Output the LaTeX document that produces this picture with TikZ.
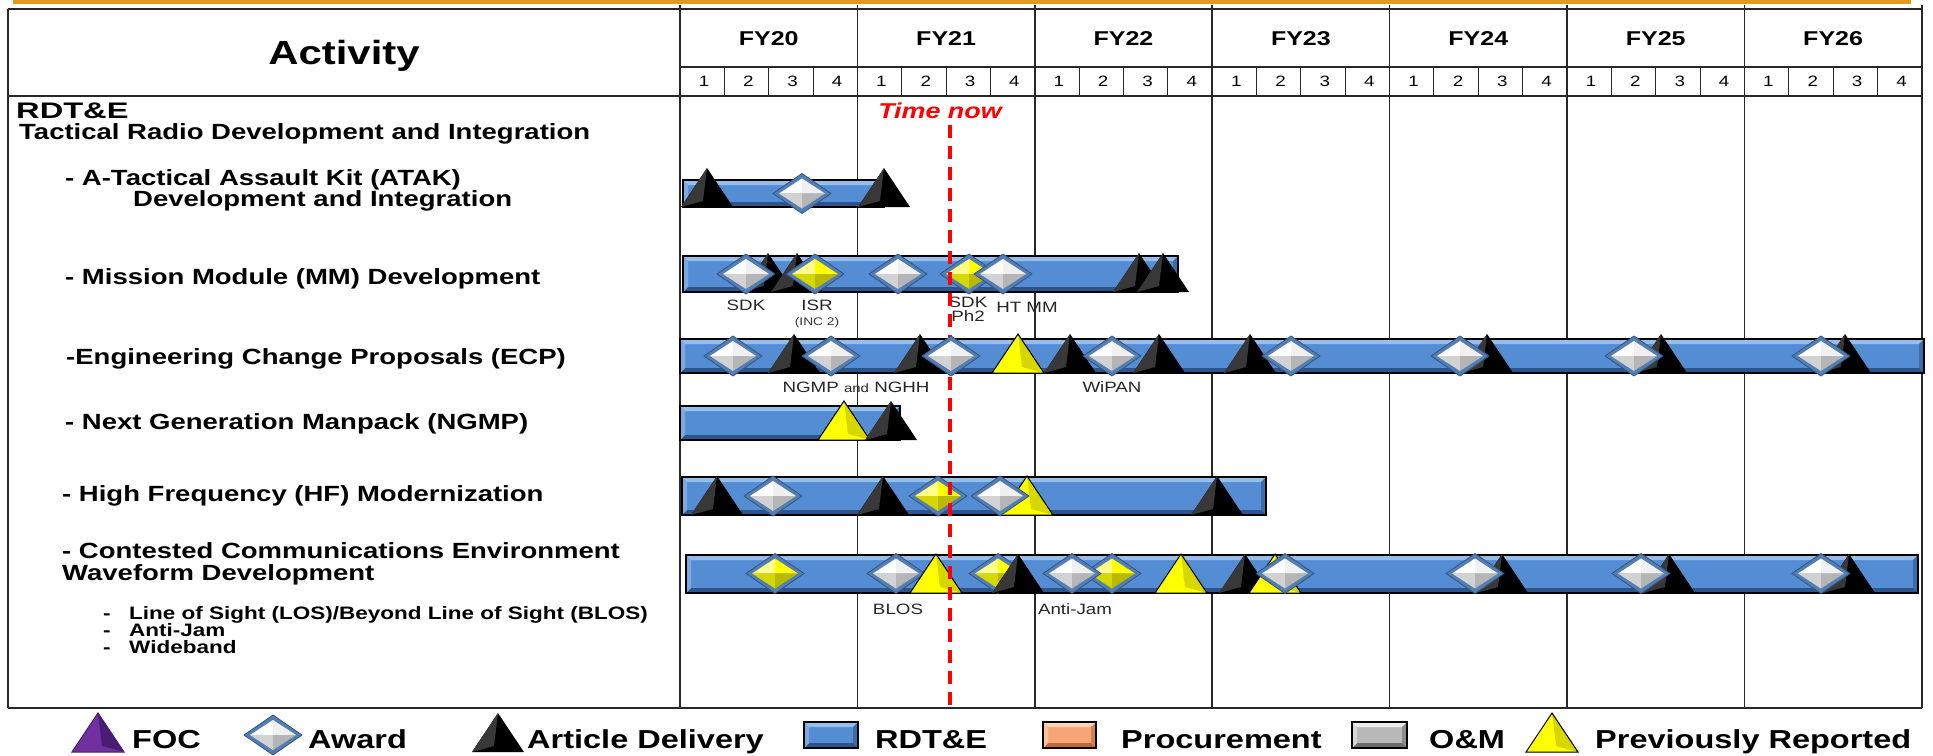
\documentclass[tikz,border=0pt]{standalone}
\usepackage{fontspec}
\setmainfont{Liberation Sans}
\definecolor{barblue}{RGB}{84,141,212}
\definecolor{barlight}{RGB}{150,190,235}
\definecolor{bardark}{RGB}{45,85,140}
\definecolor{dborder}{RGB}{84,126,178}
\definecolor{dborderdk}{RGB}{50,85,130}
\definecolor{gridc}{RGB}{40,40,40}
\definecolor{orangeline}{RGB}{222,155,30}
\definecolor{yl}{RGB}{255,255,0}
\definecolor{ylight}{RGB}{255,255,140}
\definecolor{ydark}{RGB}{215,215,0}
\definecolor{ydarker}{RGB}{185,185,0}
\definecolor{focpurple}{RGB}{112,48,160}
\definecolor{focdark}{RGB}{75,28,115}
\definecolor{procmid}{RGB}{246,166,118}
\definecolor{proclight}{RGB}{252,212,185}
\definecolor{procdark}{RGB}{190,105,55}
\definecolor{ommid}{RGB}{185,185,185}
\definecolor{omlight}{RGB}{235,235,235}
\definecolor{omdark}{RGB}{110,110,110}
\definecolor{timered}{RGB}{255,0,0}

\newcommand\st[1]{\scalebox{1.25}[1]{#1}}
\newcommand\bevelbox[7]{%
  \fill[#5] (#1,#3) rectangle (#2,#4);
  \fill[#6] (#1,#3) -- (#2,#3) -- ({#2-5},{#3+5}) -- ({#1+5},{#3+5}) -- cycle;
  \fill[#7] (#1,#4) -- (#2,#4) -- ({#2-5},{#4-5}) -- ({#1+5},{#4-5}) -- cycle;
  \fill[#6,opacity=0.6] (#1,#3) -- ({#1+5},{#3+5}) -- ({#1+5},{#4-5}) -- (#1,#4) -- cycle;
  \fill[#7,opacity=0.6] (#2,#3) -- ({#2-5},{#3+5}) -- ({#2-5},{#4-5}) -- (#2,#4) -- cycle;
  \draw[black, line width=1.5] (#1,#3) rectangle (#2,#4);
}
\newcommand\ganttbar[4]{\bevelbox{#1}{#2}{#3}{#4}{barblue}{barlight}{bardark}}

\tikzset{
  gridline/.style={gridc, line width=1.5},
  hdr/.style={anchor=base, inner sep=0, font=\bfseries\fontsize{33.5}{38}\selectfont},
  bigl/.style={anchor=base west, inner sep=0, font=\bfseries\fontsize{22.5}{27}\selectfont},
  rowlbl/.style={anchor=base west, inner sep=0, font=\bfseries\fontsize{22}{26}\selectfont},
  sublbl/.style={anchor=base west, inner sep=0, font=\bfseries\fontsize{18}{21}\selectfont},
  small/.style={anchor=base, inner sep=0, font=\fontsize{15}{17}\selectfont, text=black!85},
  tiny/.style={anchor=base, inner sep=0, font=\fontsize{11}{13}\selectfont, text=black!80},
  fy/.style={anchor=base, inner sep=0, font=\bfseries\fontsize{20}{24}\selectfont},
  qn/.style={anchor=base, inner sep=0, font=\fontsize{15}{18}\selectfont},
  legtxt/.style={anchor=base west, inner sep=0, font=\bfseries\fontsize{26}{30}\selectfont},
  tnow/.style={anchor=base, inner sep=0, text=timered, font=\bfseries\itshape\fontsize{21.5}{25}\selectfont},
  btri/.pic={
    \fill[black] (-26,0) -- (0,-39) -- (26,0) -- cycle;
    \fill[black!78] (-26,0) -- (0,-39) -- (-4,-6) -- cycle;
  },
  ytri/.pic={
    \fill[yl] (-26,0) -- (0,-39) -- (26,0) -- cycle;
    \fill[ydark] (0,-39) -- (26,0) -- (4,-6) -- cycle;
    \draw[black, line width=1] (-26,0) -- (0,-39) -- (26,0) -- cycle;
  },
  ftri/.pic={
    \fill[focpurple] (-26,0) -- (0,-39) -- (26,0) -- cycle;
    \fill[focdark] (0,-39) -- (26,0) -- (4,-6) -- cycle;
    \draw[focdark, line width=1] (-26,0) -- (0,-39) -- (26,0) -- cycle;
  },
  awd/.pic={
    \fill[dborder] (-29,0) -- (0,-20) -- (29,0) -- (0,20) -- cycle;
    \fill[white] (-23,0) -- (0,-15) -- (0,0) -- cycle;
    \fill[gray!12] (0,-15) -- (23,0) -- (0,0) -- cycle;
    \fill[gray!35] (-23,0) -- (0,15) -- (0,0) -- cycle;
    \fill[gray!58] (23,0) -- (0,15) -- (0,0) -- cycle;
    \draw[dborderdk, line width=0.8] (-29,0) -- (0,-20) -- (29,0) -- (0,20) -- cycle;
  },
  yawd/.pic={
    \fill[dborder] (-29,0) -- (0,-20) -- (29,0) -- (0,20) -- cycle;
    \fill[ylight] (-23,0) -- (0,-15) -- (0,0) -- cycle;
    \fill[yl] (0,-15) -- (23,0) -- (0,0) -- cycle;
    \fill[ydark] (-23,0) -- (0,15) -- (0,0) -- cycle;
    \fill[ydarker] (23,0) -- (0,15) -- (0,0) -- cycle;
    \draw[dborderdk, line width=0.8] (-29,0) -- (0,-20) -- (29,0) -- (0,20) -- cycle;
  },
}

\begin{document}
\begin{tikzpicture}[x=1pt,y=-1pt]
\useasboundingbox (0,0) rectangle (1933,755);

% top orange rule
\fill[orangeline] (13,0) rectangle (1911,3.5);

% ---------- table grid ----------
\draw[gridline] (8,9) -- (1922,9);
\draw[gridline] (8,9) -- (8,708);
\draw[gridline] (8,708) -- (1922,708);
\draw[gridline] (680,67) -- (1922,67);
\draw[gridline] (8,96) -- (1922,96);
\foreach \i in {0,...,7}
  \draw[gridline] ({680+\i*177.4},5) -- ({680+\i*177.4},708);
\foreach \i in {1,...,27}
  \draw[gridline, line width=1] ({680+\i*44.35},67) -- ({680+\i*44.35},96);
\foreach \i in {0,...,27}{
  \pgfmathtruncatemacro\qq{mod(\i,4)+1}
  \node[qn] (q\i) at ({680+\i*44.35+24},86.5) {\st{\qq}};
}
\foreach \y [count=\i from 0] in {20,...,26}
  \node[fy] (fy\y) at ({680+(\i+0.5)*177.4},45) {\st{FY\y}};

\node[hdr] (act) at (344,64) {\st{Activity}};

% ---------- activity column ----------
\node[bigl] (rdte) at (16,118) {\scalebox{1.45}[1]{RDT\&E}};
\node[rowlbl] (trdi) at (19,139) {\st{Tactical Radio Development and Integration}};
\node[rowlbl] (atak1) at (65,185) {\st{- A-Tactical Assault Kit (ATAK)}};
\node[rowlbl] (atak2) at (133,206) {\st{Development and Integration}};
\node[rowlbl] (mm) at (65,284) {\st{- Mission Module (MM) Development}};
\node[rowlbl] (ecp) at (66,364) {\st{-Engineering Change Proposals (ECP)}};
\node[rowlbl] (ngmp) at (65,429) {\st{- Next Generation Manpack (NGMP)}};
\node[rowlbl] (hf) at (62,501) {\st{- High Frequency (HF) Modernization}};
\node[rowlbl] (cce1) at (62,558) {\st{- Contested Communications Environment}};
\node[rowlbl] (cce2) at (62,580) {\st{Waveform Development}};
\node[sublbl] (s1d) at (103,619) {\st{-}};
\node[sublbl] (s1) at (129,619) {\st{Line of Sight (LOS)/Beyond Line of Sight (BLOS)}};
\node[sublbl] (s2d) at (103,636) {\st{-}};
\node[sublbl] (s2) at (129,636) {\st{Anti-Jam}};
\node[sublbl] (s3d) at (103,653) {\st{-}};
\node[sublbl] (s3) at (129,653) {\st{Wideband}};

% ---------- bars ----------
\ganttbar{683}{884}{180}{207}
\ganttbar{683}{1178}{256}{292}
\ganttbar{680}{1924}{339}{373}
\ganttbar{680}{900}{406}{440}
\ganttbar{682}{1266}{477}{515}
\ganttbar{686}{1918}{555}{593}

% ---------- ATAK ----------
\pic at (707,207) {btri};
\pic at (884,207) {btri};
\pic at (802,193.5) {awd};

% ---------- MM ----------
\pic at (768,292) {btri};
\pic at (797,292) {btri};
\pic at (1139,292) {btri};
\pic at (1163,292) {btri};
\pic at (746,274) {awd};
\pic at (815,274) {yawd};
\pic at (898,274) {awd};
\pic at (969,274) {yawd};
\pic at (1003,274) {awd};
\node[small] (lsdk) at (746,310) {\st{SDK}};
\node[small] (lisr) at (817,310) {\st{ISR}};
\node[tiny] (linc) at (817,325) {\st{(INC 2)}};
\node[small] (lsdk2) at (968,307) {\st{SDK}};
\node[small] (lph2) at (968,321) {\st{Ph2}};
\node[small] (lht) at (1027,312) {\st{HT MM}};

% ---------- ECP ----------
\pic at (794,373) {btri};
\pic at (920,373) {btri};
\pic at (1018,373) {ytri};
\pic at (1070,373) {btri};
\pic at (1159,373) {btri};
\pic at (1250,373) {btri};
\pic at (1487,373) {btri};
\pic at (1661,373) {btri};
\pic at (1845,373) {btri};
\pic at (733,356) {awd};
\pic at (831,356) {awd};
\pic at (1112,356) {awd};
\pic at (1291,356) {awd};
\pic at (1460,356) {awd};
\pic at (1634,356) {awd};
\pic at (1821,356) {awd};
\node[small] (lngmp) at (856,392) {\st{NGMP {\fontsize{12}{14}\selectfont and} NGHH}};
\node[small] (lwipan) at (1112,392) {\st{WiPAN}};

% ---------- NGMP ----------
\pic at (844,440) {ytri};
\pic at (891,440) {btri};

% ---------- HF ----------
\pic at (717,515) {btri};
\pic at (883,515) {btri};
\pic at (1027,515) {ytri};
\pic at (1217,515) {btri};
\pic at (773,496) {awd};
\pic at (938,496) {yawd};
\pic at (1000,496) {awd};

% ---------- CCE ----------
\pic at (775,573.5) {yawd};
\pic at (896,573.5) {awd};
\pic at (936,593) {ytri};
\pic at (998,573.5) {yawd};
\pic at (1018,593) {btri};
\pic at (1112,573.5) {yawd};
\pic at (1072,573.5) {awd};
\pic at (1181,593) {ytri};
\pic at (1245,593) {btri};
\pic at (1275,593) {ytri};
\pic at (1285,573.5) {awd};
\pic at (1502,593) {btri};
\pic at (1475,573.5) {awd};
\pic at (1669,593) {btri};
\pic at (1641,573.5) {awd};
\pic at (1849,593) {btri};
\pic at (1821,573.5) {awd};
\node[small] (lblos) at (898,614) {\st{BLOS}};
\node[small] (laj) at (1075,614) {\st{Anti-Jam}};

% ---------- time now ----------
\node[tnow] (tn) at (940,118) {\st{Time now}};
\coordinate (tnTop) at (950,125);
\coordinate (tnBot) at (950,708);
\draw[timered, line width=4, dash pattern=on 13pt off 8pt] (tnTop) -- (tnBot);
\pic at (951,356) {awd};

% ---------- legend ----------
\begin{scope}[shift={(98,752)}, yscale=0.9, xscale=1.04] \pic {ftri}; \end{scope}
\node[legtxt] (lgfoc) at (132,748) {\st{FOC}};
\begin{scope}[shift={(273,735)}, xscale=1.19] \pic {awd}; \end{scope}
\node[legtxt] (lgawd) at (308,748) {\st{Award}};
\begin{scope}[shift={(498,752)}, yscale=0.9, xscale=1.04] \pic {btri}; \end{scope}
\node[legtxt] (lgad) at (527,748) {\st{Article Delivery}};
\bevelbox{804}{858}{722}{748}{barblue}{barlight}{bardark}
\node[legtxt] (lgrd) at (875,748) {\st{RDT\&E}};
\bevelbox{1043}{1096}{722}{748}{procmid}{proclight}{procdark}
\node[legtxt] (lgpr) at (1121,748) {\st{Procurement}};
\bevelbox{1352}{1407}{722}{748}{ommid}{omlight}{omdark}
\node[legtxt] (lgom) at (1429,748) {\st{O\&M}};
\begin{scope}[shift={(1552,752)}, yscale=0.9, xscale=1.02] \pic {ytri}; \end{scope}
\node[legtxt] (lgpv) at (1595,748) {\st{Previously Reported}};
\end{tikzpicture}
\end{document}
